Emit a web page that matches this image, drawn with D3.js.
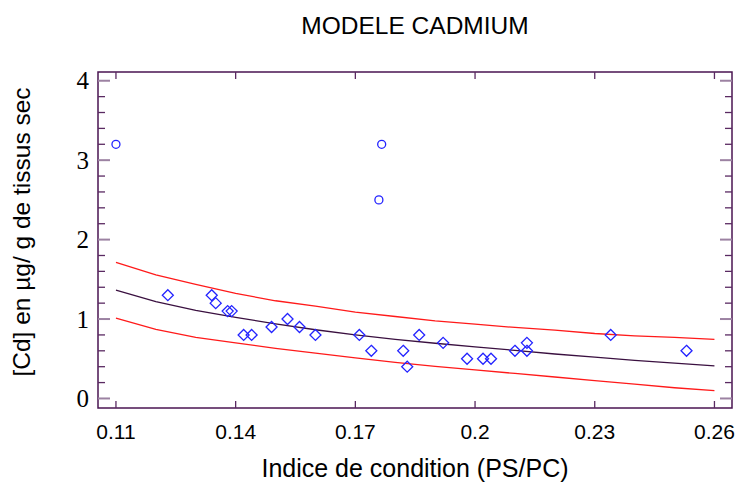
<!DOCTYPE html>
<html>
<head>
<meta charset="utf-8">
<script src="https://cdn.jsdelivr.net/npm/d3@7"></script>
<style>
  html, body { margin: 0; padding: 0; background: #ffffff; }
  svg { display: block; }
</style>
</head>
<body>
<svg id="chart" width="738" height="485"></svg>
<script>
// ---- data ----
const titleText = "MODELE CADMIUM";
const xTitle = "Indice de condition (PS/PC)";
const yTitle = "[Cd] en µg/ g de tissus sec";

const xTicks = [0.11, 0.14, 0.17, 0.2, 0.23, 0.26];
const xTickLabels = ["0.11", "0.14", "0.17", "0.2", "0.23", "0.26"];
const yTicks = [0, 1, 2, 3, 4];
const yTickLabels = ["0", "1", "2", "3", "4"];
const yMinorTicks = [0.2,0.4,0.6,0.8,1.2,1.4,1.6,1.8,2.2,2.4,2.6,2.8,3.2,3.4,3.6,3.8];

// observations kept in the model (diamonds)
const diamondX = [0.123,0.134,0.135,0.138,0.139,0.142,0.144,0.149,0.153,0.156,0.160,0.171,0.174,0.182,0.183,0.186,0.192,0.198,0.202,0.204,0.210,0.213,0.213,0.234,0.253];
const diamondY = [1.3,1.3,1.2,1.1,1.1,0.8,0.8,0.9,1.0,0.9,0.8,0.8,0.6,0.6,0.4,0.8,0.7,0.5,0.5,0.5,0.6,0.6,0.7,0.8,0.6];

// outliers (circles)
const circleX = [0.110, 0.1766, 0.1759];
const circleY = [3.2, 3.2, 2.5];

// fitted model and bands
const curveX = [0.11,0.12,0.13,0.14,0.15,0.16,0.17,0.18,0.19,0.20,0.21,0.22,0.23,0.24,0.25,0.26];
const fitY   = [1.365,1.22,1.11,1.02,0.94,0.865,0.80,0.745,0.695,0.65,0.605,0.56,0.52,0.48,0.445,0.41];
const upperY = [1.712,1.557,1.435,1.322,1.230,1.162,1.087,1.032,0.978,0.936,0.894,0.860,0.818,0.789,0.768,0.743];
const lowerY = [1.01,0.87,0.77,0.70,0.63,0.57,0.51,0.455,0.405,0.36,0.315,0.27,0.225,0.18,0.135,0.10];

// ---- layout ----
const L = 98, R = 732, T = 72, B = 408;
const frameColor = "#4a1552";
const tickColor = "#5a2a62";
const majorYTickColor = "#9c82a2";
const markColor = "#2323ff";

const svg = d3.select("#chart");
const x = d3.scaleLinear().domain([0.1055, 0.2644]).range([L, R]);
const y = d3.scaleLinear().domain([-0.12, 4.11]).range([B, T]);

// title
svg.append("text").attr("x", (L + R) / 2).attr("y", 34)
  .attr("text-anchor", "middle")
  .style("font-family", "'Liberation Sans', Arial, sans-serif")
  .style("font-size", "24.5px").attr("fill", "#000")
  .text(titleText);

// frame
svg.append("rect").attr("x", L).attr("y", T).attr("width", R - L).attr("height", B - T)
  .attr("fill", "none").attr("stroke", frameColor).attr("stroke-width", 1.5);

// x ticks (bottom & top, inward)
const gx = svg.append("g");
xTicks.forEach(v => {
  gx.append("line").attr("x1", x(v)).attr("x2", x(v)).attr("y1", B).attr("y2", B - 7)
    .attr("stroke", tickColor).attr("stroke-width", 1.3);
  gx.append("line").attr("x1", x(v)).attr("x2", x(v)).attr("y1", T).attr("y2", T + 7)
    .attr("stroke", tickColor).attr("stroke-width", 1.3);
});
xTicks.forEach((v, i) => {
  gx.append("text").attr("x", x(v)).attr("y", 439)
    .attr("text-anchor", "middle")
    .style("font-family", "'Liberation Sans', Arial, sans-serif")
    .style("font-size", "21px").attr("fill", "#000")
    .text(xTickLabels[i]);
});

// y ticks (left & right, inward)
const gy = svg.append("g");
yMinorTicks.forEach(v => {
  gy.append("line").attr("x1", L).attr("x2", L + 7).attr("y1", y(v)).attr("y2", y(v))
    .attr("stroke", tickColor).attr("stroke-width", 1.3);
  gy.append("line").attr("x1", R).attr("x2", R - 7).attr("y1", y(v)).attr("y2", y(v))
    .attr("stroke", tickColor).attr("stroke-width", 1.3);
});
yTicks.forEach((v, i) => {
  gy.append("line").attr("x1", L).attr("x2", L + 12).attr("y1", y(v)).attr("y2", y(v))
    .attr("stroke", majorYTickColor).attr("stroke-width", 2);
  gy.append("line").attr("x1", R).attr("x2", R - 12).attr("y1", y(v)).attr("y2", y(v))
    .attr("stroke", majorYTickColor).attr("stroke-width", 2);
  gy.append("text").attr("x", 89).attr("y", y(v)).attr("dy", "0.34em")
    .attr("text-anchor", "end")
    .style("font-family", "'Liberation Serif', 'Times New Roman', serif")
    .style("font-size", "25px").attr("fill", "#000")
    .text(yTickLabels[i]);
});

// axis titles
svg.append("text").attr("x", (L + R) / 2).attr("y", 477)
  .attr("text-anchor", "middle")
  .style("font-family", "'Liberation Sans', Arial, sans-serif")
  .style("font-size", "25px").attr("fill", "#000")
  .text(xTitle);

svg.append("text")
  .attr("transform", `translate(30, ${(T + B) / 2 - 8}) rotate(-90)`)
  .attr("text-anchor", "middle")
  .style("font-family", "'Liberation Sans', Arial, sans-serif")
  .style("font-size", "24.5px").attr("fill", "#000")
  .text(yTitle);

// lines
const line = d3.line().x(d => x(d[0])).y(d => y(d[1]));
const plotG = svg.append("g");
plotG.append("path").datum(curveX.map((v, i) => [v, upperY[i]]))
  .attr("d", line).attr("fill", "none").attr("stroke", "#ff1a1a").attr("stroke-width", 1.3);
plotG.append("path").datum(curveX.map((v, i) => [v, lowerY[i]]))
  .attr("d", line).attr("fill", "none").attr("stroke", "#ff1a1a").attr("stroke-width", 1.3);
plotG.append("path").datum(curveX.map((v, i) => [v, fitY[i]]))
  .attr("d", line).attr("fill", "none").attr("stroke", "#3a1040").attr("stroke-width", 1.3);

// diamonds
const dsz = 5.5;
plotG.selectAll("path.dia").data(diamondX.map((v, i) => [v, diamondY[i]])).enter()
  .append("path").attr("class", "dia")
  .attr("d", d => {
    const cx = x(d[0]), cy = y(d[1]);
    return `M${cx},${cy - dsz}L${cx + dsz},${cy}L${cx},${cy + dsz}L${cx - dsz},${cy}Z`;
  })
  .attr("fill", "none").attr("stroke", markColor).attr("stroke-width", 1.3);

// circles
plotG.selectAll("circle.out").data(circleX.map((v, i) => [v, circleY[i]])).enter()
  .append("circle").attr("class", "out")
  .attr("cx", d => x(d[0])).attr("cy", d => y(d[1])).attr("r", 4)
  .attr("fill", "none").attr("stroke", markColor).attr("stroke-width", 1.3);
</script>
</body>
</html>
